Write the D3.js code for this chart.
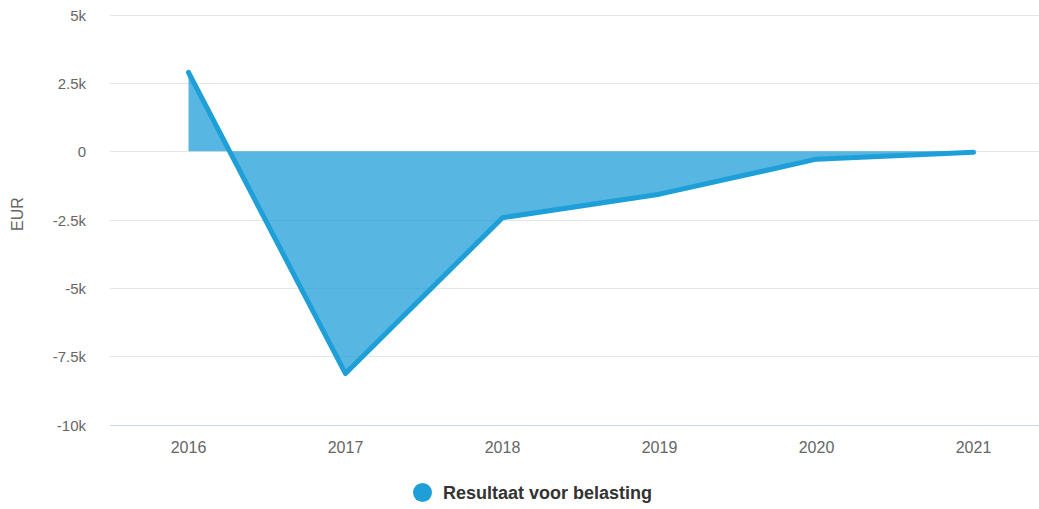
<!DOCTYPE html>
<html>
<head>
<meta charset="utf-8">
<script src="https://cdn.jsdelivr.net/npm/d3@7"></script>
<style>
  body { margin: 0; background: #fff; overflow: hidden; }
  svg { display: block; font-family: "Liberation Sans", Arial, sans-serif; }
</style>
</head>
<body>
<svg id="chart" width="1039" height="509"></svg>
<script>
// data
var years = ["2016", "2017", "2018", "2019", "2020", "2021"];
var resultaat = [2880, -8130, -2430, -1570, -290, -40];
var yTicks = [5000, 2500, 0, -2500, -5000, -7500, -10000];
var yTickLabels = ["5k", "2.5k", "0", "-2.5k", "-5k", "-7.5k", "-10k"];
var seriesName = "Resultaat voor belasting";

var svg = d3.select("#chart");
var plotLeft = 110, plotRight = 1052, plotTop = 14.5, plotBottom = 424.7;

var x = d3.scaleBand().domain(years).range([plotLeft, plotRight]);
var y = d3.scaleLinear().domain([-10000, 5000]).range([plotBottom, plotTop]);

function cx(d) { return x(d) + x.bandwidth() / 2; }

// gridlines
svg.append("g").selectAll("line")
  .data(yTicks.filter(function(d) { return d != -10000; }))
  .enter().append("line")
  .attr("x1", plotLeft).attr("x2", plotRight)
  .attr("y1", function(d) { return Math.round(y(d)) + 0.5; })
  .attr("y2", function(d) { return Math.round(y(d)) + 0.5; })
  .attr("stroke", "#e6e6e6").attr("stroke-width", 1);

// x axis line
svg.append("line")
  .attr("x1", plotLeft).attr("x2", plotRight)
  .attr("y1", Math.round(y(-10000)) + 0.5).attr("y2", Math.round(y(-10000)) + 0.5)
  .attr("stroke", "#ccd6eb").attr("stroke-width", 1);

// y labels
svg.append("g").selectAll("text")
  .data(yTicks)
  .enter().append("text")
  .attr("x", 86)
  .attr("y", function(d) { return y(d) + 6; })
  .attr("text-anchor", "end")
  .attr("fill", "#666666")
  .style("font-size", "15px")
  .text(function(d, i) { return yTickLabels[i]; });

// y title
svg.append("text")
  .attr("transform", "translate(23,214) rotate(-90)")
  .attr("text-anchor", "middle")
  .attr("fill", "#666666")
  .style("font-size", "16px")
  .text("EUR");

// x labels
svg.append("g").selectAll("text")
  .data(years)
  .enter().append("text")
  .attr("x", cx)
  .attr("y", 453)
  .attr("text-anchor", "middle")
  .attr("fill", "#666666")
  .style("font-size", "16px")
  .text(function(d) { return d; });

var pts = years.map(function(d, i) { return [cx(d), y(resultaat[i])]; });

// area to zero
var area = d3.area()
  .x(function(d) { return d[0]; })
  .y0(y(0))
  .y1(function(d) { return d[1]; });

svg.append("path")
  .datum(pts)
  .attr("d", area)
  .attr("fill", "#1f9fd8")
  .attr("fill-opacity", 0.75);

var line = d3.line()
  .x(function(d) { return d[0]; })
  .y(function(d) { return d[1]; });

svg.append("path")
  .datum(pts)
  .attr("d", line)
  .attr("fill", "none")
  .attr("stroke", "#1f9fd8")
  .attr("stroke-width", 5)
  .attr("stroke-linecap", "round")
  .attr("stroke-linejoin", "round");

// legend
var legend = svg.append("g");
legend.append("circle")
  .attr("cx", 422.5).attr("cy", 492.5).attr("r", 9.5)
  .attr("fill", "#1f9fd8");
legend.append("text")
  .attr("x", 443).attr("y", 499)
  .attr("fill", "#333333")
  .style("font-size", "18px")
  .style("font-weight", "bold")
  .text(seriesName);
</script>
</body>
</html>
